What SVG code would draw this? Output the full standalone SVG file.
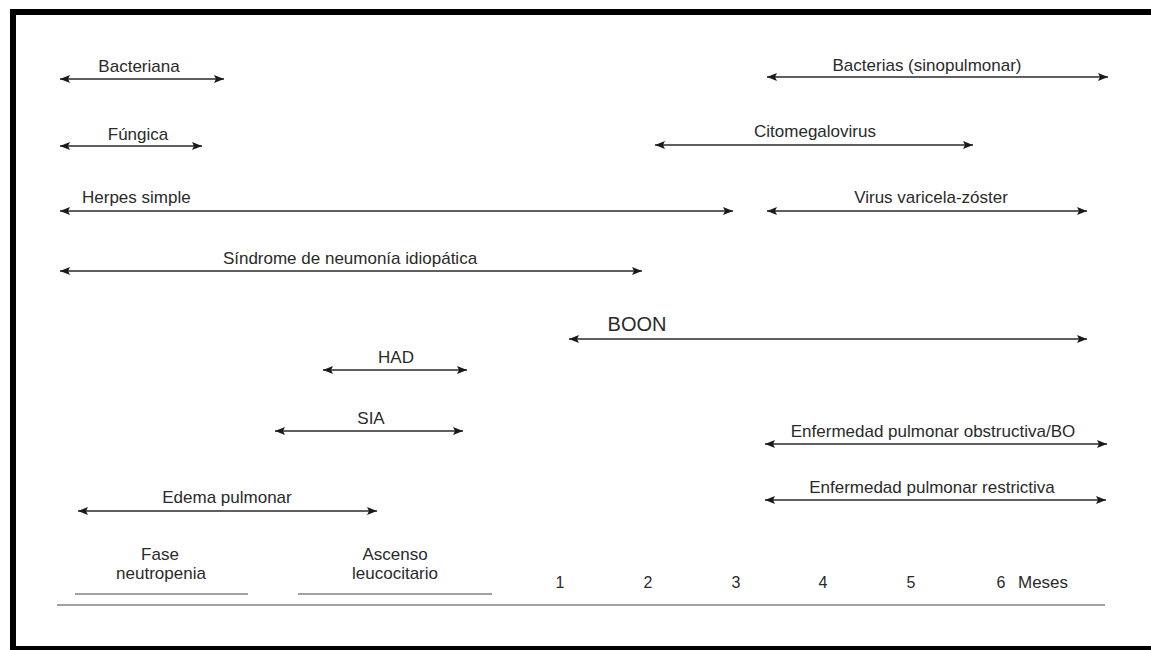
<svg xmlns="http://www.w3.org/2000/svg" width="1151" height="650" viewBox="0 0 1151 650">
<style>
text{font-family:"Liberation Sans",Arial,sans-serif;font-size:17px;fill:#2a2a2a;text-anchor:middle}
.big{font-size:20px}
.num{font-size:16px}
.st{text-anchor:start}
.arr{stroke:#2a2a2a;stroke-width:1.3;fill:none;marker-start:url(#ah);marker-end:url(#ah)}
.rule{stroke:#444;stroke-width:1.2;fill:none}
.frame{fill:#000}
</style>
<defs>
<marker id="ah" markerUnits="userSpaceOnUse" markerWidth="11" markerHeight="9" refX="10" refY="4.5" orient="auto-start-reverse">
<path d="M0,0.5 L10,4.5 L0,8.5 L2,4.5 z" fill="#1a1a1a"/>
</marker>
</defs>
<rect width="1151" height="650" fill="#fff"/>
<g id="frame">
<rect class="frame" x="10" y="9" width="1141" height="6"/>
<rect class="frame" x="10" y="9" width="6" height="641"/>
<rect class="frame" x="10" y="646" width="1141" height="4"/>
</g>
<g id="connectors">
<line class="arr" x1="60" y1="79" x2="224" y2="79"/>
<line class="arr" x1="60" y1="146" x2="202" y2="146"/>
<line class="arr" x1="60" y1="211" x2="733" y2="211"/>
<line class="arr" x1="767" y1="77" x2="1108" y2="77"/>
<line class="arr" x1="655" y1="145" x2="973" y2="145"/>
<line class="arr" x1="767" y1="211" x2="1087" y2="211"/>
<line class="arr" x1="60" y1="271" x2="642" y2="271"/>
<line class="arr" x1="569" y1="339" x2="1087" y2="339"/>
<line class="arr" x1="323" y1="370" x2="467" y2="370"/>
<line class="arr" x1="275" y1="431" x2="463" y2="431"/>
<line class="arr" x1="765" y1="444" x2="1107" y2="444"/>
<line class="arr" x1="765" y1="500" x2="1106" y2="500"/>
<line class="arr" x1="78" y1="511" x2="377" y2="511"/>
</g>
<g id="n-bacteriana"><text x="139" y="72">Bacteriana</text></g>
<g id="n-fungica"><text x="138" y="140">Fúngica</text></g>
<g id="n-herpes"><text class="st" x="82" y="203">Herpes simple</text></g>
<g id="n-bacterias-sino"><text x="927" y="71">Bacterias (sinopulmonar)</text></g>
<g id="n-cmv"><text x="815" y="137">Citomegalovirus</text></g>
<g id="n-vzv"><text x="931" y="203">Virus varicela-zóster</text></g>
<g id="n-sindrome"><text x="350" y="264">Síndrome de neumonía idiopática</text></g>
<g id="n-boon"><text class="big" x="637" y="331">BOON</text></g>
<g id="n-had"><text x="396" y="363">HAD</text></g>
<g id="n-sia"><text x="371" y="424">SIA</text></g>
<g id="n-obstructiva"><text x="933" y="437">Enfermedad pulmonar obstructiva/BO</text></g>
<g id="n-restrictiva"><text x="932" y="493">Enfermedad pulmonar restrictiva</text></g>
<g id="n-edema"><text x="227" y="503">Edema pulmonar</text></g>
<g id="axis">
<text x="160" y="560">Fase</text>
<text x="161" y="579">neutropenia</text>
<text x="395" y="560">Ascenso</text>
<text x="395" y="579">leucocitario</text>
<line class="rule" x1="75" y1="594" x2="248" y2="594"/>
<line class="rule" x1="298" y1="594" x2="492" y2="594"/>
<text class="num" x="560" y="588">1</text>
<text class="num" x="648" y="588">2</text>
<text class="num" x="736" y="588">3</text>
<text class="num" x="823" y="588">4</text>
<text class="num" x="911" y="588">5</text>
<text class="num" x="1001" y="588">6</text>
<text class="st" x="1018" y="588">Meses</text>
<line class="rule" x1="57" y1="605" x2="1105" y2="605"/>
</g>
</svg>
